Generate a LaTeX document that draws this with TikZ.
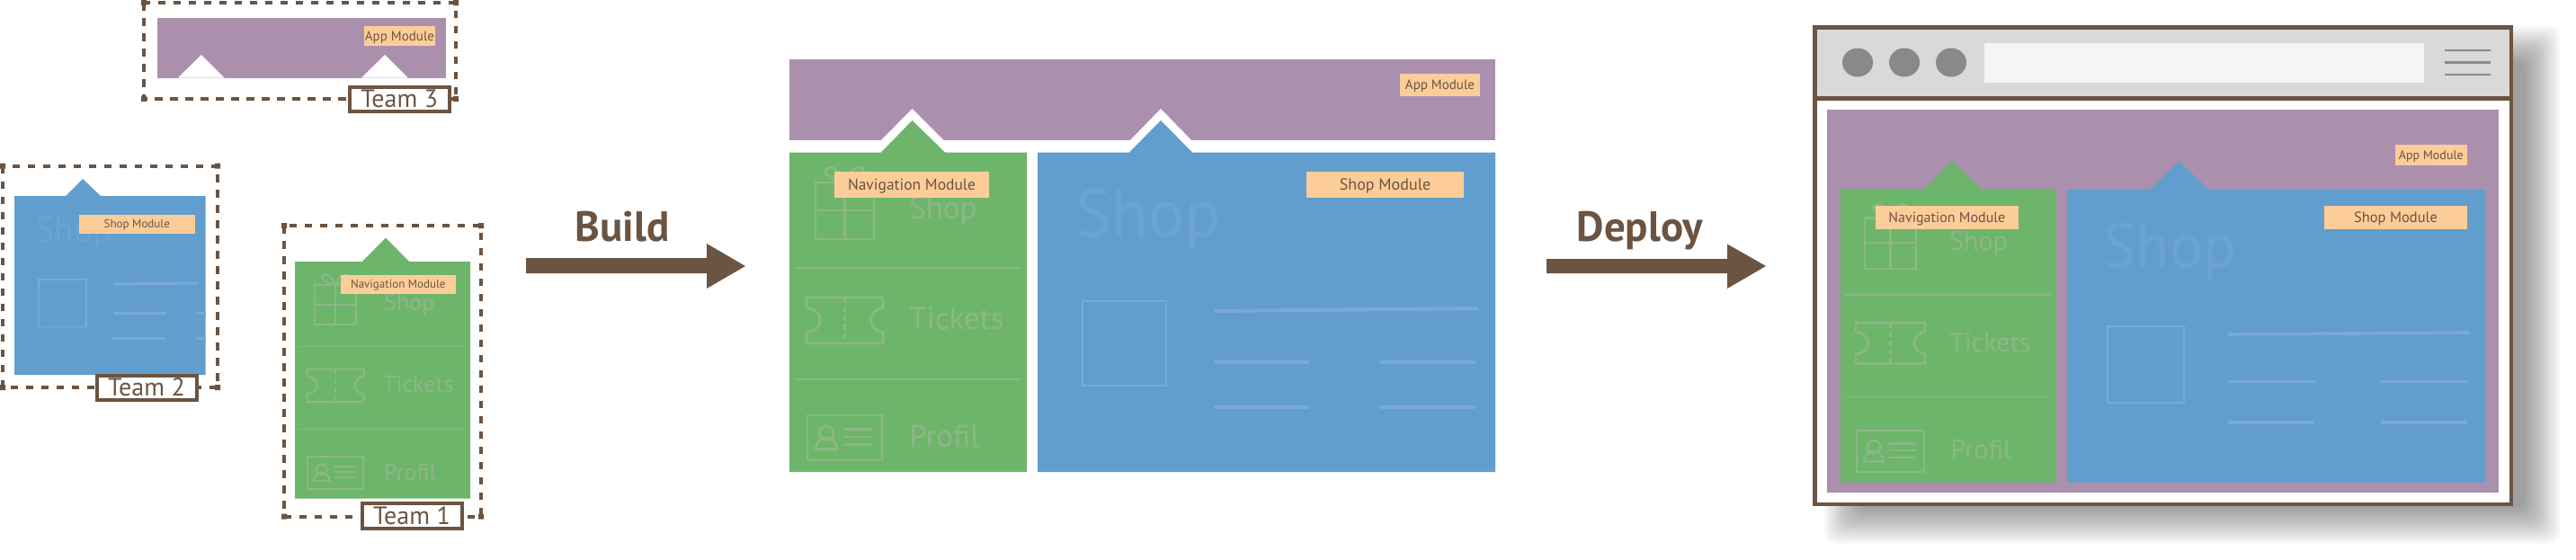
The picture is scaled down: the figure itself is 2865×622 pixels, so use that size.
\documentclass[tikz,border=0pt]{standalone}
\usepackage{fontspec}
\setmainfont{PT Sans}
\definecolor{cPurple}{HTML}{AB90AE}
\definecolor{cGreen}{HTML}{6DB56A}
\definecolor{cBlue}{HTML}{619ECD}
\definecolor{cLabel}{HTML}{FDCD99}
\definecolor{cBrown}{HTML}{6B5442}
\definecolor{cGhostG}{HTML}{8DB788}
\definecolor{cGhostB}{HTML}{6CA3D4}
\definecolor{cLineB}{HTML}{7AA9D8}
\definecolor{cBar}{HTML}{D9D9D9}
\definecolor{cAddr}{HTML}{F5F5F5}
\definecolor{cDot}{HTML}{898989}
\newcommand\fs[1]{\fontsize{#1}{#1}\selectfont}
\tikzset{
  modlabel/.style={fill=cLabel,inner sep=0pt,text=cBrown,text depth=0pt},
  teamlabel/.style={draw=cBrown,line width=4pt,fill=white,inner sep=0pt,text=cBrown,font=\fs{28},text height=19pt,text depth=0pt},
  dashbox/.style={draw=cBrown,line width=4pt,dash pattern=on 8.5pt off 8.5pt},
  gicon/.style={draw=cGhostG,line width=#1},
  gline/.style={draw=cGhostG,line width=#1},
  bline/.style={draw=cLineB,line width=#1},
  ghosttext/.style={inner sep=0pt,anchor=base west},
  blockarrow/.style={fill=cBrown},
  headtext/.style={inner sep=0pt,anchor=base,text=cBrown,font=\fs{47}\bfseries},
}
% name x1 y1 x2 y2 fontsize text
\newcommand\modlab[7]{\node[modlabel,font=\fs{#6},text height={#6*.7pt},minimum width={(#4-#2)*1pt},minimum height={(#5-#3)*1pt}] (#1) at ({(#2+#4)/2},{(#3+#5)/2}) {#7};}
\newcommand\teamlab[6]{\node[teamlabel,minimum width={(#4-#2)*1pt},minimum height={(#5-#3)*1pt}] (#1) at ({(#2+#4)/2},{(#3+#5)/2}) {#6};}
% icons: x y w h linewidth
\newcommand\gifticon[5]{\begin{scope}[shift={(#1,#2)},xscale=#3,yscale=#4]
  \draw[gicon=#5] (0,0) rectangle (1,1);
  \draw[gicon=#5] (0,.49) -- (1,.49) (.5,0) -- (.5,1);
  \draw[gicon=#5] (.5,0) .. controls (.35,-.05) and (.15,-.1) .. (.17,-.2) .. controls (.19,-.31) and (.38,-.31) .. (.5,0);
  \draw[gicon=#5] (.5,0) .. controls (.65,-.05) and (.85,-.1) .. (.83,-.2) .. controls (.81,-.31) and (.62,-.31) .. (.5,0);
\end{scope}}
\newcommand\ticketicon[5]{\begin{scope}[shift={(#1,#2)},xscale=#3,yscale=#4]
  \draw[gicon=#5] (0,0) -- (1,0) -- (1,.215) .. controls (.79,.3) and (.79,.7) .. (1,.77) -- (1,1) -- (0,1) -- (0,.77) .. controls (.24,.7) and (.24,.3) .. (0,.215) -- cycle;
  \draw[gicon=#5,dash pattern=on 6pt off 4pt] (.5,0) -- (.5,1);
\end{scope}}
\newcommand\cardicon[5]{\begin{scope}[shift={(#1,#2)},xscale=#3,yscale=#4]
  \draw[gicon=#5] (0,0) rectangle (1,1);
  \draw[gicon=#5] (.256,.4) ellipse[x radius=.095,y radius=.16];
  \draw[gicon=#5] (.108,.75) .. controls (.13,.55) and (.2,.5) .. (.256,.5) .. controls (.31,.5) and (.38,.55) .. (.396,.75) -- cycle;
  \draw[gicon=#5] (.48,.313) -- (.876,.313) (.48,.48) -- (.876,.48) (.48,.647) -- (.876,.647);
\end{scope}}
% dashed team frame with its corner marks
\newcommand\teamframe[4]{
  \draw[dashbox] (#1,#2) rectangle (#3,#4);
  \fill[cBrown] (#1-3,#2-3) rectangle (#1+3,#2+3) (#3-3,#2-3) rectangle (#3+3,#2+3)
                (#1-3,#4-3) rectangle (#1+3,#4+3) (#3-3,#4-3) rectangle (#3+3,#4+3);
}
\begin{document}
\begin{tikzpicture}[x=1pt,y=-1pt]
\useasboundingbox (0,0) rectangle (2865,622);
\fill[white] (0,0) rectangle (2865,622);

%% ---------- Team 3
\teamframe{160}{3}{507}{110}
\fill[cPurple] (175,20) rectangle (495.5,86.5);
\fill[white] (198,86.5) -- (224,61) -- (249.5,86.5) -- cycle;
\fill[white] (402,86.5) -- (428,61) -- (453.5,86.5) -- cycle;
\modlab{app3}{405}{29}{484}{51}{15}{App Module}
\teamlab{team3}{389}{96.5}{499.5}{124}{Team 3}

%% ---------- Team 2
\teamframe{3}{184.5}{242}{431}
\fill[cBlue] (16,218) -- (73,218) -- (92,199) -- (112,218) -- (228.5,218) -- (228.5,417) -- (16,417) -- cycle;
\node[ghosttext,text=cGhostB,font=\fs{40}] (shop2big) at (39,269.5) {Shop};
\draw[cLineB,line width=1.8pt] (43,311) rectangle (96,363.5);
\draw[bline=3pt] (126,316) -- (220,315);
\draw[bline=3pt] (126,348.5) -- (184.5,348.5) (219,348.5) -- (228.5,348.5);
\draw[bline=3pt] (125,376.5) -- (184,376.5) (219,376.5) -- (228.5,376.5);
\modlab{shop2}{87.6}{238.5}{217}{260}{13}{Shop Module}
\teamlab{team2}{107.5}{417.5}{218.5}{445}{Team 2}

%% ---------- Team 1
\teamframe{316}{251}{535}{574.5}
\fill[cGreen] (328,291) -- (403,291) -- (429,264.5) -- (455,291) -- (523,291) -- (523,554.5) -- (328,554.5) -- cycle;
\gifticon{350}{317}{46}{44}{2}
\ticketicon{341.5}{410.5}{63}{36.5}{2}
\cardicon{342}{507.5}{62}{36.5}{2}
\draw[gline=1.4pt] (332.5,385.5) -- (517,385.5) (332.5,477.5) -- (517,477.5);
\node[ghosttext,text=cGhostG,font=\fs{26}] (shop1t) at (427,345) {Shop};
\node[ghosttext,text=cGhostG,font=\fs{26}] (tick1t) at (426,436.5) {Tickets};
\node[ghosttext,text=cGhostG,font=\fs{26}] (prof1t) at (427,534) {Profil};
\modlab{nav1}{378.5}{306}{507}{326.5}{13}{Navigation Module}
\teamlab{team1}{402.5}{559.5}{513.5}{587.5}{Team 1}

%% ---------- Build arrow
\fill[blockarrow] (585,287) -- (786,287) -- (786,271) -- (829,296) -- (786,321) -- (786,304) -- (585,304) -- cycle;
\node[headtext] (build) at (692,268) {Build};

%% ---------- Built page
\fill[cPurple] (878,66) rectangle (1663,156);
\fill[white] (980,156) -- (1014.5,121) -- (1049.5,156) -- cycle;
\fill[white] (1257,156) -- (1291,121) -- (1325,156) -- cycle;
\fill[cGreen] (878,169.5) -- (980,169.5) -- (1014.5,134) -- (1051,169.5) -- (1142,169.5) -- (1142,525) -- (878,525) -- cycle;
\fill[cBlue] (1154,169.5) -- (1256,169.5) -- (1291,134) -- (1326,169.5) -- (1663,169.5) -- (1663,525) -- (1154,525) -- cycle;
\gifticon{907}{203}{65}{63}{2.7}
\ticketicon{897}{331}{85}{51}{2.7}
\cardicon{898}{462}{83}{50}{2.7}
\draw[gline=1.6pt] (884,298) -- (1134.5,298) (884,422) -- (1134.5,422);
\node[ghosttext,text=cGhostG,font=\fs{35}] (shopMt) at (1011,243) {Shop};
\node[ghosttext,text=cGhostG,font=\fs{35}] (tickMt) at (1011,366) {Tickets};
\node[ghosttext,text=cGhostG,font=\fs{35}] (profMt) at (1011,497) {Profil};
\node[ghosttext,text=cGhostB,font=\fs{75}] (shopMbig) at (1196,263) {Shop};
\draw[cLineB,line width=1.8pt] (1204,335) rectangle (1297,429);
\draw[bline=4pt] (1351,346) -- (1644,343);
\draw[bline=4pt] (1351,403) -- (1456,403) (1535,403) -- (1641,403);
\draw[bline=4pt] (1350,453) -- (1455,453) (1535,453) -- (1641,453);
\modlab{appM}{1557}{82}{1646}{107}{15}{App Module}
\modlab{navM}{928}{191}{1100}{220}{17.5}{Navigation Module}
\modlab{shopM}{1453}{191}{1628}{220}{18}{Shop Module}

%% ---------- Deploy arrow
\fill[blockarrow] (1720,288) -- (1921,288) -- (1921,271.5) -- (1964,296) -- (1921,321) -- (1921,304) -- (1720,304) -- cycle;
\node[headtext] (deploy) at (1824,268) {Deploy};

%% ---------- Browser shadow
\foreach \k in {-20,-18,...,20}
  \fill[black,opacity=.021,rounded corners=12pt] (2048+\k,48+\k) rectangle (2828-\k,585-\k);

%% ---------- Browser
\fill[white] (2018,30) rectangle (2793.5,561.5);
\fill[cBar] (2018,30) rectangle (2793.5,109.5);
\foreach \cx in {2066,2118,2170}
  \fill[cDot] (\cx,69.5) ellipse[x radius=17,y radius=16];
\fill[cAddr] (2207,47.5) rectangle (2696,91.5);
\draw[cDot,line width=2.5pt] (2719,56) -- (2770,56) (2719,69.5) -- (2770,69.5) (2719,83) -- (2770,83);
\draw[cBrown,line width=4.5pt] (2018.5,30.5) rectangle (2793,561) (2018.5,109.5) -- (2793,109.5);
\fill[cPurple] (2032,122) rectangle (2779,548);
\fill[cGreen] (2047,210.5) -- (2140,210.5) -- (2171,179) -- (2204,210.5) -- (2287,210.5) -- (2287,536.5) -- (2047,536.5) -- cycle;
\fill[cBlue] (2299,210.5) -- (2392,210.5) -- (2423.5,179) -- (2456,210.5) -- (2764,210.5) -- (2764,536.5) -- (2299,536.5) -- cycle;
\gifticon{2074}{242.5}{57}{56.5}{2.4}
\ticketicon{2064}{359}{77}{45.5}{2.4}
\cardicon{2065}{479}{75}{46}{2.4}
\draw[gline=1.5pt] (2052,328) -- (2280,328) (2052,441.5) -- (2280,441.5);
\node[ghosttext,text=cGhostG,font=\fs{30}] (shopBt) at (2168,278) {Shop};
\node[ghosttext,text=cGhostG,font=\fs{30}] (tickBt) at (2168,391) {Tickets};
\node[ghosttext,text=cGhostG,font=\fs{30}] (profBt) at (2169.5,510) {Profil};
\node[ghosttext,text=cGhostB,font=\fs{69}] (shopBbig) at (2339,297) {Shop};
\draw[cLineB,line width=1.8pt] (2344,363) rectangle (2429,448);
\draw[bline=3.6pt] (2478.5,372) -- (2746,370);
\draw[bline=3.6pt] (2478.5,424.5) -- (2575,424.5) (2648,424.5) -- (2744,424.5);
\draw[bline=3.6pt] (2478,470) -- (2574,470) (2648,470) -- (2744,470);
\modlab{appB}{2663.5}{161}{2744}{183.5}{14}{App Module}
\modlab{navB}{2086}{228.5}{2244.5}{255}{16}{Navigation Module}
\modlab{shopB}{2585}{228.5}{2744}{255}{16.5}{Shop Module}
\end{tikzpicture}
\end{document}
